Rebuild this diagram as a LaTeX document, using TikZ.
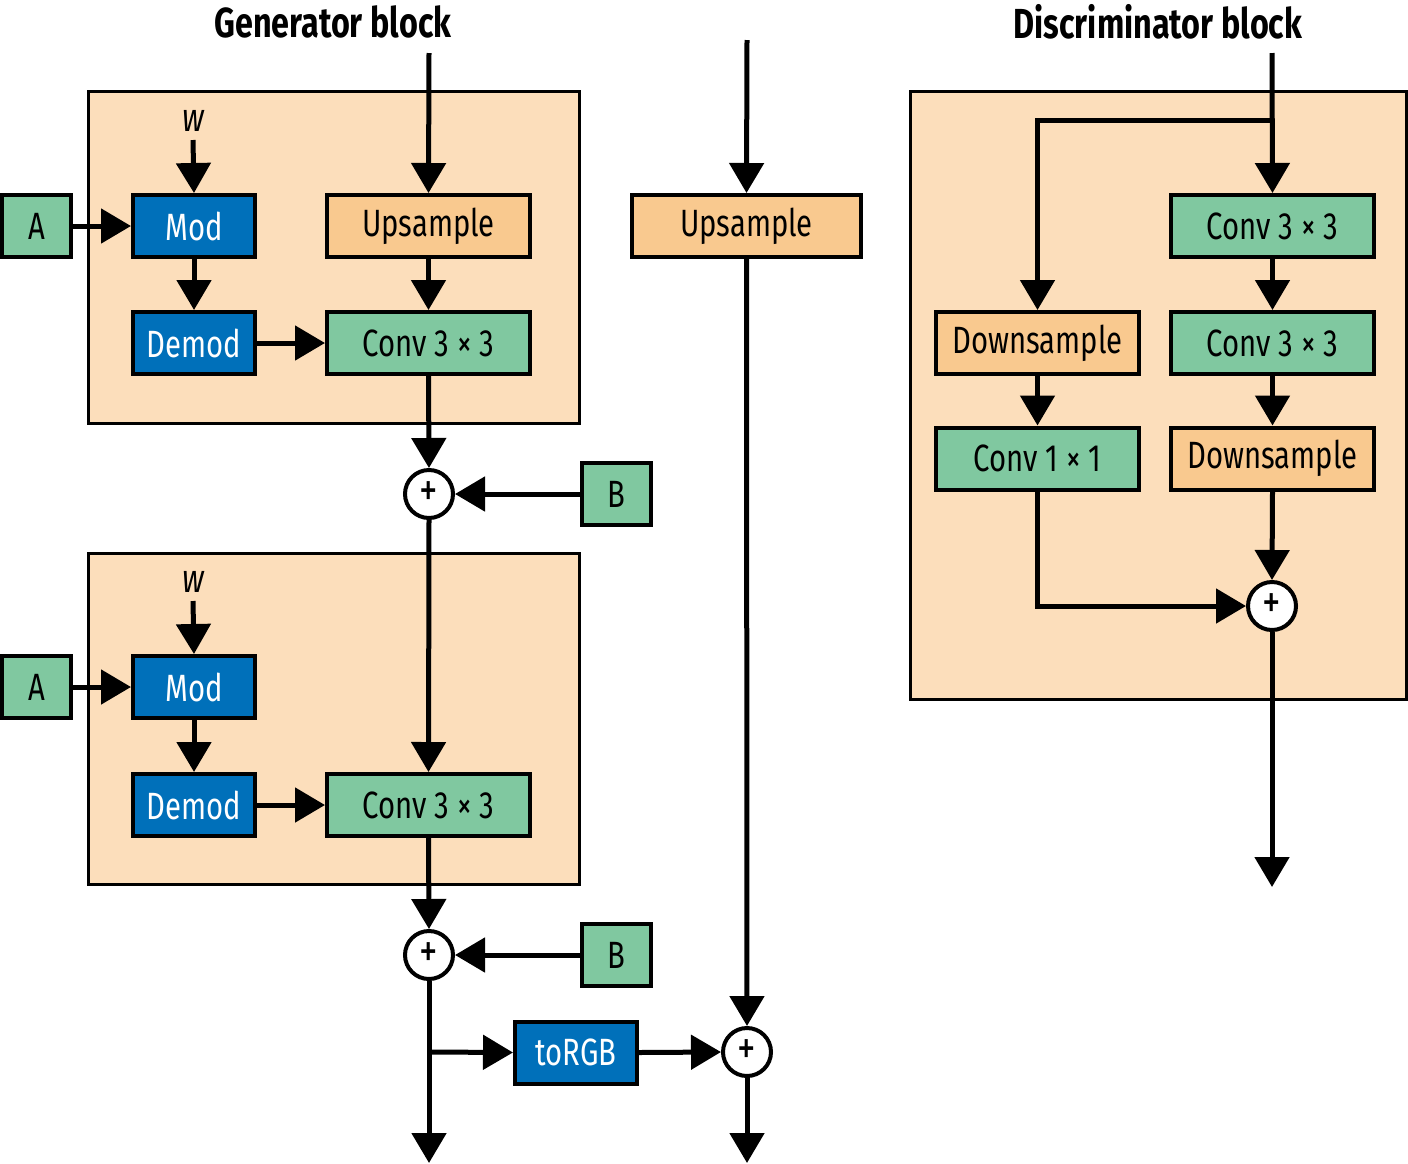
\documentclass[tikz,border=0pt]{standalone}
\usepackage{fontspec}
\setmainfont{Fira Sans}[FakeStretch=0.77]
\usetikzlibrary{arrows.meta}
\definecolor{panel}{RGB}{252,222,187}
\definecolor{ora}{RGB}{249,201,143}
\definecolor{gre}{RGB}{128,200,160}
\definecolor{blu}{RGB}{0,112,186}
\begin{document}
\begin{tikzpicture}[x=0.5pt,y=-0.5pt,
  box/.style={draw=black, line width=2pt, inner sep=0pt, minimum height=31pt, font=\fontsize{19}{21}\selectfont},
  gbox/.style={box, fill=gre},
  obox/.style={box, fill=ora},
  bbox/.style={box, fill=blu, text=white},
  wsm/.style={minimum width=61pt},
  wmd/.style={minimum width=101.5pt},
  wlg/.style={minimum width=114.5pt},
  wsq/.style={minimum width=34.5pt},
  sum/.style={circle, draw=black, line width=2pt, fill=white, minimum size=24pt, inner sep=0pt, font=\fontsize{24}{24}\selectfont},
  panelbox/.style={fill=panel, draw=black, line width=1.5pt},
  arr/.style={line width=2.5pt, -{Triangle[length=15pt,width=17pt]}},
  ttl/.style={font=\fontsize{21}{23}\selectfont\bfseries},
  lbl/.style={font=\fontsize{20}{21}\selectfont\itshape, inner sep=0pt}
]
\useasboundingbox (0,0) rectangle (1408,1163);
% panels
\draw[panelbox] (88,91) rectangle (579,423);
\draw[panelbox] (88,553) rectangle (579,884);
\draw[panelbox] (910,91) rectangle (1406,699);
% titles
\node[ttl] (gt) at (333,22) {Generator block};
\node[ttl] (dt) at (1158,22) {Discriminator block};
% generator block 1
\node[gbox,wsq] (a1) at (36.5,226) {A};
\node[bbox,wsm] (mod1) at (194,226) {Mod};
\node[obox,wmd] (ups1) at (428.5,226) {Upsample};
\node[bbox,wsm] (dem1) at (194,343) {Demod};
\node[gbox,wmd] (conv1) at (428.5,343) {Conv 3 × 3};
\node[lbl] (w1) at (193,121) {w};
\node[sum] (p1) at (429,494) {+};
\node[gbox,wsq] (b1) at (616.5,494) {B};
% generator block 2
\node[gbox,wsq] (a2) at (36.5,687) {A};
\node[bbox,wsm] (mod2) at (194,687) {Mod};
\node[bbox,wsm] (dem2) at (194,805) {Demod};
\node[gbox,wmd] (conv2) at (428.5,805) {Conv 3 × 3};
\node[lbl] (w2) at (193,582) {w};
\node[sum] (p2) at (429,955) {+};
\node[gbox,wsq] (b2) at (616.5,955) {B};
\node[bbox,wsm] (rgb) at (576,1052.5) {toRGB};
\node[sum] (p3) at (747,1052) {+};
\node[obox,wlg] (upsm) at (746.5,226) {Upsample};
% discriminator
\node[gbox,wmd] (dc1) at (1272.5,226) {Conv 3 × 3};
\node[gbox,wmd] (dc2) at (1272.5,343) {Conv 3 × 3};
\node[obox,wmd] (dds2) at (1272.5,458.5) {Downsample};
\node[obox,wmd] (dds1) at (1037.5,343) {Downsample};
\node[gbox,wmd] (dc11) at (1037.5,458.5) {Conv 1 × 1};
\node[sum] (p4) at (1272,606) {+};
% free ends
\coordinate (gin) at (429,53);
\coordinate (min) at (747,40);
\coordinate (din) at (1272,53);
\coordinate (dsplit) at (1272,120);
\coordinate (gsplit) at (429,1052);
\coordinate (gout) at (429,1163);
\coordinate (mout) at (747,1163);
\coordinate (dout) at (1272,887);
\coordinate (w1s) at (193,140);
\coordinate (w2s) at (193,601);
% connectors gen 1
\draw[arr] (w1s) -- (mod1.north);
\draw[arr] (a1.east) -- (mod1.west);
\draw[arr] (mod1.south) -- (dem1.north);
\draw[arr] (dem1.east) -- (conv1.west);
\draw[arr] (gin) -- (ups1.north);
\draw[arr] (ups1.south) -- (conv1.north);
\draw[arr] (conv1.south) -- (p1.north);
\draw[arr] (b1.west) -- (p1.east);
% gen 2
\draw[arr] (p1.south) -- (conv2.north);
\draw[arr] (w2s) -- (mod2.north);
\draw[arr] (a2.east) -- (mod2.west);
\draw[arr] (mod2.south) -- (dem2.north);
\draw[arr] (dem2.east) -- (conv2.west);
\draw[arr] (conv2.south) -- (p2.north);
\draw[arr] (b2.west) -- (p2.east);
\draw[arr] (p2.south) -- (gout);
\draw[arr] (gsplit) -- (rgb.west);
\draw[arr] (rgb.east) -- (p3.west);
% middle
\draw[arr] (min) -- (upsm.north);
\draw[arr] (upsm.south) -- (p3.north);
\draw[arr] (p3.south) -- (mout);
% discriminator
\draw[arr] (din) -- (dc1.north);
\draw[arr] (dsplit) -| (dds1.north);
\draw[arr] (dc1.south) -- (dc2.north);
\draw[arr] (dc2.south) -- (dds2.north);
\draw[arr] (dds1.south) -- (dc11.north);
\draw[arr] (dds2.south) -- (p4.north);
\draw[arr] (dc11.south) |- (p4.west);
\draw[arr] (p4.south) -- (dout);
\end{tikzpicture}
\end{document}
